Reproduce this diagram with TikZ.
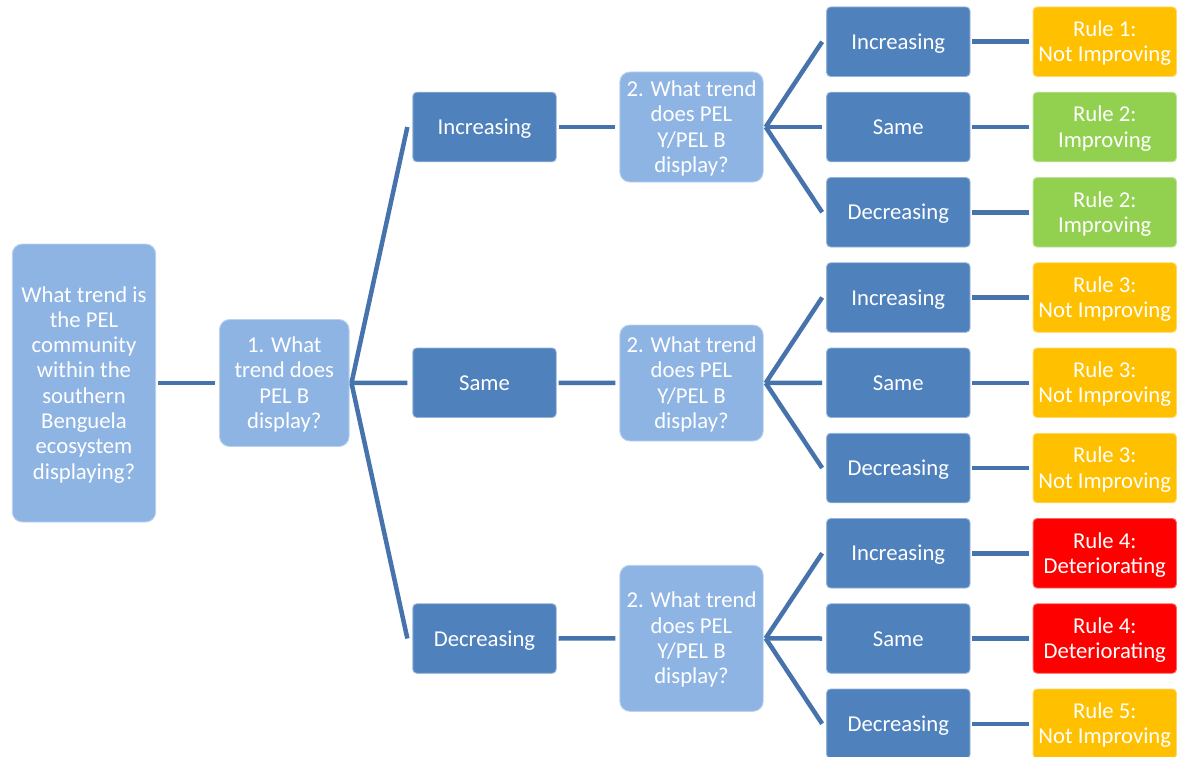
\documentclass[tikz,border=0pt]{standalone}
\usepackage{fontspec}
\setmainfont{Carlito}
\usetikzlibrary{calc}

\definecolor{qblue}{RGB}{142,180,227}
\definecolor{dblue}{RGB}{79,129,189}
\definecolor{linkc}{RGB}{70,115,172}
\definecolor{ruleorange}{RGB}{255,192,0}
\definecolor{rulegreen}{RGB}{146,208,80}
\definecolor{rulered}{RGB}{255,0,0}

% centred lines on a fixed 25.3pt grid, set a little below the box centre
\newsavebox\txtbox
\newcommand{\boxtext}[1]{%
  \sbox\txtbox{\begin{tabular}{@{}c@{}}#1\end{tabular}}%
  \raisebox{0pt}[\dimexpr\ht\txtbox+5pt\relax][\dp\txtbox]{\usebox\txtbox}}

\begin{document}
\begin{tikzpicture}[x=1pt,y=-1pt,
  box/.style={rounded corners=4pt, inner sep=0pt, text=white,
    minimum width=143.4pt, minimum height=69.5pt,
    font=\fontsize{22.7}{25.3}\selectfont,
    fill=#1, draw=#1!60!white, line width=0.9pt},
  question/.style={box=qblue, rounded corners=10pt},
  choice/.style={box=dblue},
  outcome/.style={box=#1},
  conn/.style={draw=linkc, line width=4.5pt},
  hconn/.style={conn, shorten <=2pt, shorten >=4pt}]

\useasboundingbox (0,0) rectangle (1177,757);

% root question and first question
\node[question, minimum height=278pt] (root) at (84,383)
  {\boxtext{What trend is\\the PEL\\community\\within the\\southern\\Benguela\\ecosystem\\displaying?}};
\node[question, minimum width=129.5pt, minimum height=127pt] (q1) at (284.3,383)
  {\boxtext{1. What\\trend does\\PEL B\\display?}};

% answers to question 1
\node[choice] (inc)  at (484.5,127)    {\boxtext{Increasing}};
\node[choice] (same) at (484.5,382.75) {\boxtext{Same}};
\node[choice] (dec)  at (484.5,638.5)  {\boxtext{Decreasing}};

% second questions
\node[question, minimum height=110pt] (q2a) at (691.5,127)   {\boxtext{2. What trend\\does PEL\\Y/PEL B\\display?}};
\node[question, minimum height=116pt] (q2b) at (691.5,383)   {\boxtext{2. What trend\\does PEL\\Y/PEL B\\display?}};
\node[question, minimum height=146pt] (q2c) at (691.5,638.3) {\boxtext{2. What trend\\does PEL\\Y/PEL B\\display?}};

% answers to question 2 and resulting rules
\foreach \i/\lab/\col/\res in {
  0/Increasing/ruleorange/{Rule 1:\\Not Improving},
  1/Same/rulegreen/{Rule 2:\\Improving},
  2/Decreasing/rulegreen/{Rule 2:\\Improving},
  3/Increasing/ruleorange/{Rule 3:\\Not Improving},
  4/Same/ruleorange/{Rule 3:\\Not Improving},
  5/Decreasing/ruleorange/{Rule 3:\\Not Improving},
  6/Increasing/rulered/{Rule 4:\\Deteriorating},
  7/Same/rulered/{Rule 4:\\Deteriorating},
  8/Decreasing/ruleorange/{Rule 5:\\Not Improving}}{
  \node[choice] (a\i) at (898.3,{41.75+85.25*\i}) {\boxtext{\lab}};
  \node[outcome=\col] (r\i) at (1104.75,{41.75+85.25*\i}) {\boxtext{\res}};
  \draw[hconn] (a\i.east) -- (r\i.west);
}

% connectors
\draw[hconn] (root.east) -- (q1.west);
\foreach \t in {inc,same,dec}
  \draw[conn] ($(q1.east)+(2,0)$) -- ($(\t.west)+(-5,0)$);
\draw[hconn] (inc.east) -- (q2a.west);
\draw[hconn] (same.east) -- (q2b.west);
\draw[hconn] (dec.east) -- (q2c.west);
\foreach \q/\a/\b/\c in {q2a/a0/a1/a2, q2b/a3/a4/a5, q2c/a6/a7/a8}{
  \draw[conn] ($(\q.east)+(2,0)$) -- ($(\a.west)+(-4,0)$);
  \draw[conn] ($(\q.east)+(2,0)$) -- ($(\b.west)+(-4,0)$);
  \draw[conn] ($(\q.east)+(2,0)$) -- ($(\c.west)+(-4,0)$);
}
\end{tikzpicture}
\end{document}
